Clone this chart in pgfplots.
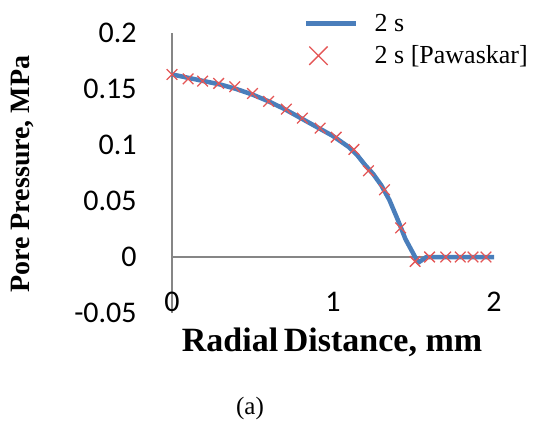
\documentclass[border=0pt]{standalone}
\usepackage{fontspec}
\setmainfont{Liberation Serif}
\newfontfamily\carlito{Carlito}
\usepackage{pgfplots}
\pgfplotsset{compat=1.18}

\definecolor{lineblue}{RGB}{74,126,187}
\definecolor{xred}{RGB}{228,86,86}
\definecolor{axgray}{RGB}{134,134,134}

\begin{document}
\begin{tikzpicture}
\path[use as bounding box] (0pt,0pt) rectangle (537pt,423pt);
\begin{axis}[
  at={(172pt,110pt)}, anchor=south west,
  scale only axis,
  width=322pt, height=280pt,
  xmin=0, xmax=2, ymin=-0.05, ymax=0.2,
  xtick={0,1,2}, ytick={-0.05,0,0.05,0.1,0.15,0.2},
  axis x line=bottom, axis y line=left,
  x axis line style={draw=none},
  y axis line style={-, draw=axgray, line width=1.6pt},
  tick style={draw=none},
  extra y ticks={0}, extra y tick labels={},
  extra y tick style={grid=major, major grid style={draw=axgray, line width=1.6pt}},
  /pgf/number format/assume math mode=true,
  yticklabel style={/pgf/number format/fixed, anchor=east, inner sep=0pt, xshift=-33pt},
  xticklabel style={anchor=center, inner sep=0pt, yshift=13pt},
  ticklabel style={font=\carlito\fontsize{30}{30}\selectfont},
  xlabel={\textbf{Radial\,Distance, mm}},
  ylabel={\textbf{Pore Pressure, MPa}},
  xlabel style={at={(axis description cs:0.497,-0.104)}, anchor=center, font=\fontsize{34}{34}\selectfont},
  ylabel style={at={(axis description cs:-0.463,0.496)}, anchor=center, font=\fontsize{28}{28}\selectfont},
  clip=false,
  legend style={at={(axis description cs:0.41,1.075)}, anchor=north west, draw=none, fill=none,
    font=\fontsize{26}{26}\selectfont, row sep=9pt, inner sep=0pt},
  legend cell align=left,
]
\addplot[lineblue, line width=4.5pt, line join=round,
  legend image code/.code={\draw (0pt,0pt) -- (50pt,0pt); \path (64pt,0pt);}]
  coordinates {
  (0,0.163) (0.1,0.160) (0.2,0.157) (0.3,0.154) (0.4,0.150) (0.5,0.145)
  (0.6,0.139) (0.7,0.132) (0.8,0.124) (0.9,0.116) (1.0,0.108) (1.1,0.098)
  (1.15,0.091) (1.2,0.082) (1.25,0.074) (1.3,0.064) (1.35,0.051) (1.4,0.034)
  (1.45,0.016) (1.51,0.0) (1.53,-0.005) (1.58,0) (2.0,0)
  };
\addlegendentry{2 s}
\addplot[only marks, mark=x, mark size=7.5pt, mark options={draw=xred, line width=1.3pt},
  legend image code/.code={\draw[mark size=13pt] plot coordinates {(12pt,0pt)}; \path (64pt,0pt);}]
  coordinates {
  (0,0.163) (0.10,0.159) (0.19,0.157) (0.29,0.155) (0.39,0.152) (0.50,0.146)
  (0.60,0.139) (0.71,0.132) (0.81,0.124) (0.92,0.115) (1.02,0.107) (1.13,0.096)
  (1.22,0.077) (1.32,0.060) (1.42,0.026) (1.51,-0.004) (1.60,0) (1.70,0)
  (1.79,0) (1.87,0) (1.95,0)
  };
\addlegendentry{2 s [Pawaskar]}
\end{axis}
\node[font=\fontsize{25}{25}\selectfont] at (250pt,15pt) {(a)};
\end{tikzpicture}
\end{document}
